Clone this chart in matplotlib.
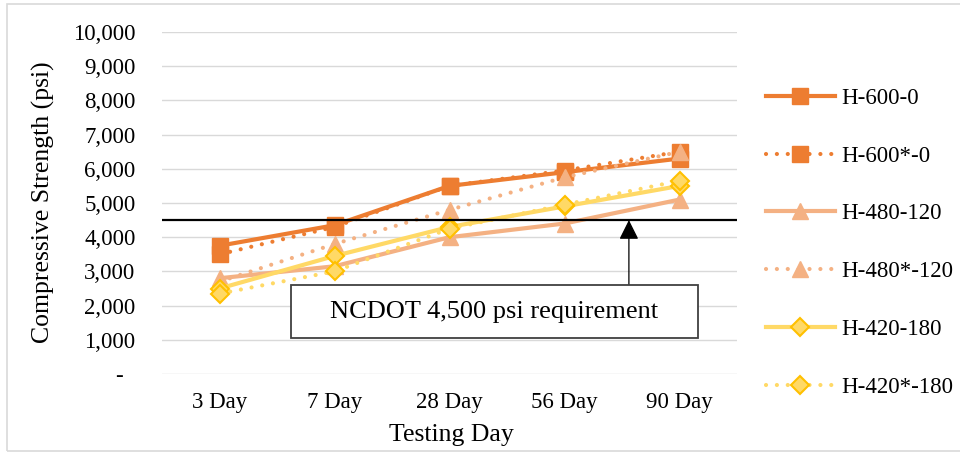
import matplotlib.pyplot as plt
import matplotlib.ticker as mticker
from matplotlib.patches import Rectangle

plt.rcParams['font.family'] = ['Liberation Serif', 'DejaVu Serif']

days = ['3 Day', '7 Day', '28 Day', '56 Day', '90 Day']

h600 = [3750, 4350, 5500, 5900, 6300]
h600s = [3500, 4300, 5500, 5950, 6500]
h480 = [2800, 3150, 4000, 4400, 5100]
h480s = [2700, 3800, 4800, 5750, 6500]
h420 = [2500, 3450, 4300, 4900, 5500]
h420s = [2350, 3000, 4250, 4950, 5650]

requirement = 4500
req_label = 'NCDOT 4,500 psi requirement'

orange = '#ED7D31'
peach = '#F4B183'
yellow = '#FFD966'
gold = '#FFC000'

dots = (0, (0.01, 2.6))

fig = plt.figure(figsize=(9.6, 4.55), dpi=100)
ax = fig.add_axes([162/960, 81/455, 575/960, 342/455])

x = range(len(days))
lw = 3.0

ax.plot(x, h600, color=orange, lw=lw, marker='s', ms=11, mfc=orange, mec=orange,
        label='H-600-0', zorder=3)
ax.plot(x, h600s, color=orange, lw=lw, ls=dots, dash_capstyle='round', marker='s', ms=11,
        mfc=orange, mec=orange, label='H-600*-0', zorder=3)
ax.plot(x, h480, color=peach, lw=lw, marker='^', ms=11.5, mfc=peach, mec=peach,
        label='H-480-120', zorder=3)
ax.plot(x, h480s, color=peach, lw=lw, ls=dots, dash_capstyle='round', marker='^', ms=11.5,
        mfc=peach, mec=peach, label='H-480*-120', zorder=3)
ax.plot(x, h420, color=yellow, lw=lw, marker='D', ms=9, mfc=yellow, mec=gold, mew=1.5,
        label='H-420-180', zorder=3)
ax.plot(x, h420s, color=yellow, lw=lw, ls=dots, dash_capstyle='round', marker='D', ms=9,
        mfc=yellow, mec=gold, mew=1.5, label='H-420*-180', zorder=3)

ax.axhline(requirement, color='black', lw=1.6, zorder=4)

# requirement callout box and arrow
ax.annotate('', xy=(3.56, requirement), xytext=(3.56, 2602),
            arrowprops=dict(arrowstyle='-|>', color='black', lw=0.9, mutation_scale=30,
                            shrinkA=0, shrinkB=0), zorder=5)
ax.add_patch(Rectangle((0.622, 1053), 4.161 - 0.622, 2602 - 1053, fc='white', ec='#404040',
                       lw=1.3, zorder=6))
ax.text(2.39, 1827, req_label, ha='center', va='center', fontsize=19, zorder=7)

ax.set_xlim(-0.5, len(days) - 0.5)
ax.set_ylim(0, 10000)
ax.set_xticks(list(x))
ax.set_xticklabels(days)
ax.yaxis.set_major_locator(mticker.MultipleLocator(1000))
ax.yaxis.set_major_formatter(mticker.FuncFormatter(
    lambda v, p: '-  ' if v == 0 else f'{int(v):,}'))
ax.tick_params(axis='y', length=0, pad=19, labelsize=16.5)
ax.tick_params(axis='x', length=0, pad=13, labelsize=16.5)
ax.grid(axis='y', color='#D9D9D9', lw=1.0)
ax.set_axisbelow(True)
for s in ax.spines.values():
    s.set_visible(False)

ax.set_ylabel('Compressive Strength (psi)', fontsize=18.5)
ax.set_xlabel('Testing Day', fontsize=18.5)
ax.yaxis.set_label_coords(-0.186, 0.503)
ax.xaxis.set_label_coords(0.503, -0.146)

ax.legend(loc='upper left', bbox_to_anchor=(766/960, 1 - 88/455), bbox_transform=fig.transFigure,
          frameon=False, fontsize=16.5, handlelength=3.0, handletextpad=0.3,
          labelspacing=1.6, numpoints=1, borderaxespad=0, borderpad=0)

# chart border (right side runs off the image, as in the source)
fig.patches.append(Rectangle((7/960, 4/455), 960/960, 447/455, transform=fig.transFigure,
                             fill=False, ec='#D9D9D9', lw=1.2))

fig.savefig('out.png', dpi=100)
